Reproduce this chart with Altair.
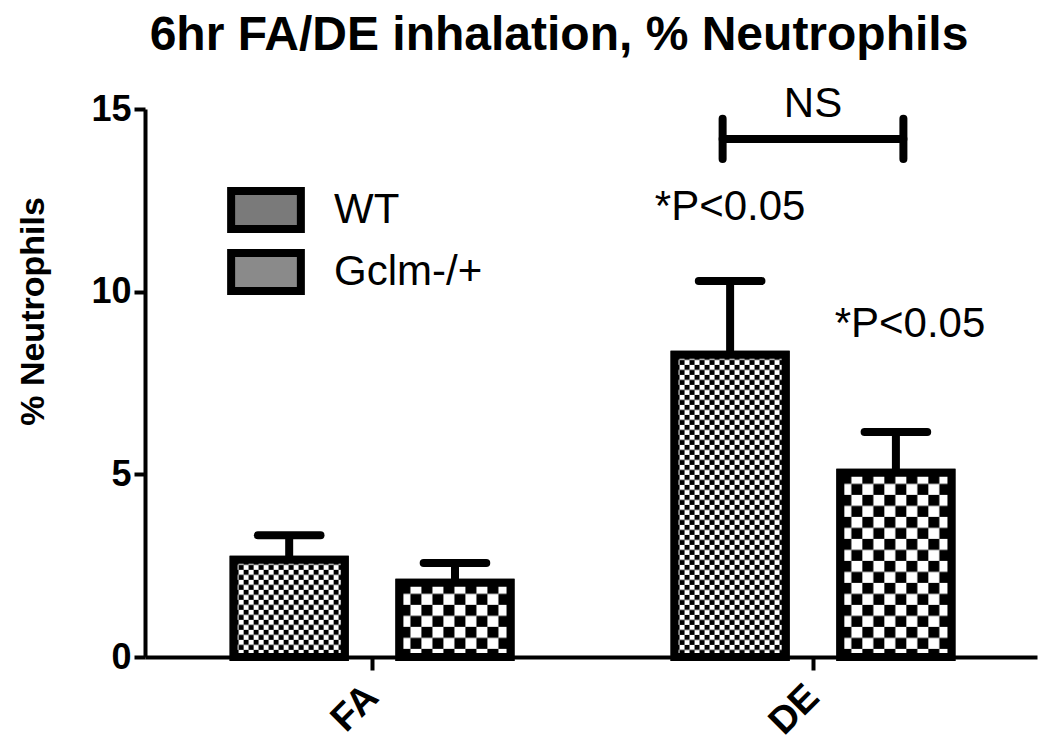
import urllib.parse
import altair as alt
import pandas as pd

# ---- data ----
categories = ["FA", "FA", "DE", "DE"]
groups = ["WT", "Gclm-/+", "WT", "Gclm-/+"]
means = [2.66, 2.03, 8.27, 5.04]
sems = [0.67, 0.54, 2.02, 1.12]

ann_text = ["NS", "*P<0.05", "*P<0.05"]
ann_x = [2.0, 1.812, 2.22]
ann_y = [14.78, 11.96, 8.76]

bracket_x = [1.795, 2.205]
bracket_y = [14.18, 14.18]

FONT = "Liberation Sans"
GROUP_OFF = 0.188
HALF_BAR = 0.126
HALF_CAP = 0.071
XSCALE = alt.Scale(domain=[0.485, 2.508], nice=False, zero=False)
YSCALE = alt.Scale(domain=[0, 15], nice=False)


def pattern_uri(cell):
    s = 2 * cell
    svg = (
        "<svg xmlns='http://www.w3.org/2000/svg' width='100%' height='100%'>"
        f"<defs><pattern id='p' width='{s}' height='{s}' patternUnits='userSpaceOnUse'>"
        f"<rect width='{s}' height='{s}' fill='#fff'/>"
        f"<rect width='{cell}' height='{cell}' fill='#000'/>"
        f"<rect x='{cell}' y='{cell}' width='{cell}' height='{cell}' fill='#000'/>"
        "</pattern></defs><rect width='100%' height='100%' fill='url(#p)'/></svg>"
    )
    return "data:image/svg+xml;charset=utf-8," + urllib.parse.quote(svg)


df = pd.DataFrame({"category": categories, "group": groups, "mean": means, "sem": sems})
ann = pd.DataFrame({"t": ann_text, "x": ann_x, "y": ann_y})
br = pd.DataFrame({"x": bracket_x, "y": bracket_y})

base = alt.Chart(df).transform_calculate(
    center=f"(datum.category == 'FA' ? 1 : 2) + (datum.group == 'WT' ? {-GROUP_OFF} : {GROUP_OFF})"
).transform_calculate(
    left=f"datum.center - {HALF_BAR}",
    right=f"datum.center + {HALF_BAR}",
    capl=f"datum.center - {HALF_CAP}",
    capr=f"datum.center + {HALF_CAP}",
    top="datum.mean + datum.sem",
)

x_axis = alt.Axis(
    values=[1, 2], labelExpr="datum.value == 1 ? 'FA' : 'DE'", title=None, grid=False,
    labelAngle=-45, labelAlign="right", labelBaseline="middle", labelFont=FONT,
    labelFontSize=38, labelFontWeight="bold", labelColor="black", labelPadding=21,
    tickSize=13, tickWidth=4, tickColor="black", domainWidth=4, domainColor="black",
)
y_axis = alt.Axis(
    values=[0, 5, 10, 15], title="% Neutrophils", grid=False,
    labelFont=FONT, labelFontSize=36, labelFontWeight="bold", labelColor="black",
    labelPadding=3, tickSize=11, tickWidth=4, tickColor="black",
    domainWidth=4, domainColor="black",
    titleFont=FONT, titleFontSize=34, titleFontWeight="bold", titleColor="black",
    titleX=-102, titleY=202, titleBaseline="alphabetic", titleAlign="center",
)


def X(f):
    return alt.X(f, type="quantitative", scale=XSCALE, axis=x_axis)


def Y(f):
    return alt.Y(f, type="quantitative", scale=YSCALE, axis=y_axis)


bars = base.mark_bar(stroke="black", strokeWidth=8).encode(
    x=X("left"),
    x2="right:Q",
    y=Y("mean"),
    y2=alt.datum(0),
    fill=alt.Fill(
        "group:N",
        scale=alt.Scale(domain=["WT", "Gclm-/+"], range=["#7a7a7a", "#8a8a8a"]),
        legend=alt.Legend(
            title=None, orient="none", legendX=95, legendY=75, padding=0,
            symbolType="M-1.6,-0.87L1.6,-0.87L1.6,0.87L-1.6,0.87Z", symbolSize=1900,
            symbolStrokeColor="black", symbolStrokeWidth=8, symbolOpacity=1,
            labelFont=FONT, labelFontSize=42, labelColor="black", labelOffset=42,
            rowPadding=-8,
        ),
    ),
)

img_wt = base.transform_filter("datum.group == 'WT'").mark_image(aspect=False).encode(
    x=X("left"), x2="right:Q", y=Y("mean"), y2=alt.datum(0), url=alt.value(pattern_uri(5))
)
img_gc = base.transform_filter("datum.group != 'WT'").mark_image(aspect=False).encode(
    x=X("left"), x2="right:Q", y=Y("mean"), y2=alt.datum(0), url=alt.value(pattern_uri(11))
)

stems = base.mark_rule(color="black", strokeWidth=8).encode(
    x=X("center"), y=Y("mean"), y2="top:Q"
)
caps = base.mark_rule(color="black", strokeWidth=8, strokeCap="round").encode(
    x=X("capl"), x2="capr:Q", y=Y("top")
)
outline = base.mark_bar(filled=False, color="black", strokeWidth=8).encode(
    x=X("left"), x2="right:Q", y=Y("mean"), y2=alt.datum(0)
)

texts = alt.Chart(ann).mark_text(
    font=FONT, fontSize=42, color="black", align="center", baseline="alphabetic"
).encode(x=X("x"), y=Y("y"), text="t:N")

br_h = alt.Chart(br).mark_rule(color="black", strokeWidth=8, strokeCap="round").encode(
    x=alt.X("min(x)", type="quantitative", scale=XSCALE, axis=x_axis),
    x2="max(x)", y=alt.Y("mean(y)", type="quantitative", scale=YSCALE, axis=y_axis),
)
br_v = alt.Chart(br).transform_calculate(
    y0="datum.y - 0.55", y1="datum.y + 0.55"
).mark_rule(color="black", strokeWidth=8, strokeCap="round").encode(
    x=X("x"), y=Y("y0"), y2="y1:Q"
)

chart = alt.layer(
    bars, img_wt, img_gc, stems, caps, outline, texts, br_h, br_v
).properties(
    width=892, height=548,
    autosize="none",
    padding={"left": 137, "top": 101, "right": 5, "bottom": 85},
    title=alt.TitleParams(
        "6hr FA/DE inhalation, % Neutrophils", font=FONT, fontSize=48,
        fontWeight="bold", color="black", anchor="middle", dx=-32, offset=23,
    ),
).configure_view(stroke=None)

chart.save("out.html", embed_options={"renderer": "svg", "actions": False})
